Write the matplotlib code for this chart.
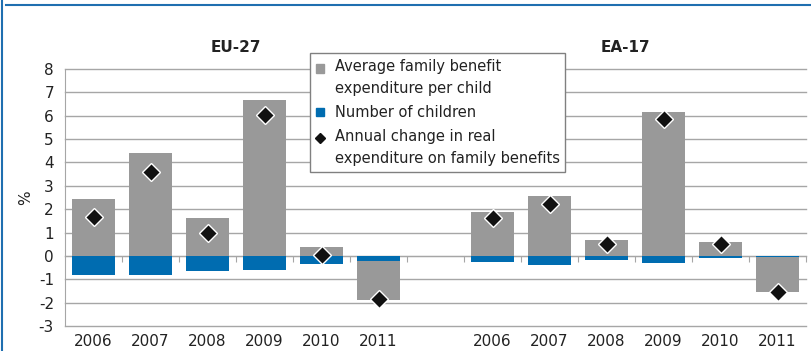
import numpy as np
import matplotlib.pyplot as plt
from matplotlib.lines import Line2D
from matplotlib.patches import Patch
from matplotlib.legend_handler import HandlerPatch, HandlerLine2D

plt.rcParams['font.family'] = ['DejaVu Sans']
plt.rcParams['axes.unicode_minus'] = False

years = ['2006', '2007', '2008', '2009', '2010', '2011']
groups = ['EU-27', 'EA-17']

# values (%)
eu_avg_benefit = [2.45, 4.42, 1.63, 6.67, 0.39, -1.69]
eu_children = [-0.82, -0.82, -0.63, -0.59, -0.34, -0.20]
eu_real_change = [1.66, 3.58, 1.00, 6.04, 0.04, -1.86]

ea_avg_benefit = [1.87, 2.57, 0.69, 6.18, 0.60, -1.50]
ea_children = [-0.26, -0.39, -0.16, -0.29, -0.09, -0.03]
ea_real_change = [1.64, 2.22, 0.51, 5.88, 0.49, -1.53]

legend_labels = ['Average family benefit\nexpenditure per child',
                 'Number of children',
                 'Annual change in real\nexpenditure on family benefits']

gray = '#999999'
blue = '#006cb0'
grid_c = '#a6a6a6'
txt = '#222222'


# legend keys sit on the first text line, like the original
class TopPatch(HandlerPatch):
    def __init__(self, dy, **kw):
        super().__init__(**kw)
        self.dy = dy

    def create_artists(self, legend, orig_handle, xdescent, ydescent, width, height, fontsize, trans):
        return super().create_artists(legend, orig_handle, xdescent, ydescent - self.dy,
                                      width, height, fontsize, trans)


class TopLine(HandlerLine2D):
    def __init__(self, dy, **kw):
        super().__init__(**kw)
        self.dy = dy

    def create_artists(self, legend, orig_handle, xdescent, ydescent, width, height, fontsize, trans):
        return super().create_artists(legend, orig_handle, xdescent, ydescent - 2 * self.dy,
                                      width, height, fontsize, trans)


fig = plt.figure(figsize=(8.11, 3.51), dpi=100)
ax = fig.add_axes([65/811, 25/351, 741/811, 257/351])

avg = np.array(eu_avg_benefit + ea_avg_benefit)
kids = np.array(eu_children + ea_children)
real = np.array(eu_real_change + ea_real_change)
xpos = np.array(list(range(6)) + list(range(7, 13)))
w = 0.74

ax.bar(xpos, kids, w, color=blue, zorder=3)
gray_bottom = np.where(avg < 0, np.minimum(kids, 0), 0)
ax.bar(xpos, avg, w, bottom=gray_bottom, color=gray, zorder=3)
ax.plot(xpos, real, linestyle='none', marker='D', ms=9, color='#111111',
        mec='white', mew=1, zorder=4)

ax.set_xlim(-0.5, 12.5)
ax.set_ylim(-3, 8)
ax.set_yticks(range(-3, 9))
ax.set_yticklabels([str(v) for v in range(-3, 9)])
ax.yaxis.grid(True, color=grid_c, lw=1)
ax.set_axisbelow(True)
for gl in ax.get_ygridlines():
    gl.set_clip_on(False)

for s in ['top', 'right']:
    ax.spines[s].set_visible(False)
ax.spines['left'].set_color(grid_c)
ax.spines['bottom'].set_color(grid_c)
ax.spines['bottom'].set_position(('data', 0))
ax.spines['bottom'].set_zorder(2)

# category boundary ticks on the zero line
ax.set_xticks(np.arange(0.5, 13, 1))
ax.tick_params(axis='x', direction='out', length=4, color=grid_c, labelbottom=False)
ax.tick_params(axis='y', length=0, pad=8, labelsize=11, labelcolor=txt)

sec = ax.secondary_xaxis('bottom')
sec.set_xticks(xpos)
sec.set_xticklabels(years + years)
sec.tick_params(length=0, pad=6, labelsize=11, labelcolor=txt)
sec.spines['bottom'].set_visible(False)

ax.set_ylabel('%', fontsize=11, color=txt, labelpad=4)

ax.text(2.5, 1.085, groups[0], transform=ax.get_xaxis_transform(),
        ha='center', va='center', fontsize=11, fontweight='bold', color=txt)
ax.text(9.34, 1.085, groups[1], transform=ax.get_xaxis_transform(),
        ha='center', va='center', fontsize=11, fontweight='bold', color=txt)

h_avg = Patch(color=gray)
h_kids = Patch(color=blue)
h_real = Line2D([], [], linestyle='none', marker='D', ms=5.5, color='#111111')
half_line = 7.5  # points
leg = ax.legend([h_avg, h_kids, h_real], legend_labels, loc='upper left',
                bbox_to_anchor=(0.3205, 1.089), frameon=True, fancybox=False,
                framealpha=1, edgecolor='#808080', fontsize=10.5,
                handlelength=0.55, handleheight=0.55, handletextpad=0.75,
                labelspacing=0.6, borderpad=0.4,
                handler_map={h_avg: TopPatch(half_line), h_real: TopLine(half_line)})
leg.get_frame().set_linewidth(1)
leg.set_zorder(5)
for t in leg.get_texts():
    t.set_color(txt)
    t.set_linespacing(1.6)

# outer frame lines
fig.add_artist(Line2D([6/811, 1], [1 - 5/351, 1 - 5/351], color='#1f6fb0', lw=1.5))
fig.add_artist(Line2D([1.5/811, 1.5/811], [0, 1], color='#1f6fb0', lw=1.5))

fig.savefig('out.png', dpi=100)
